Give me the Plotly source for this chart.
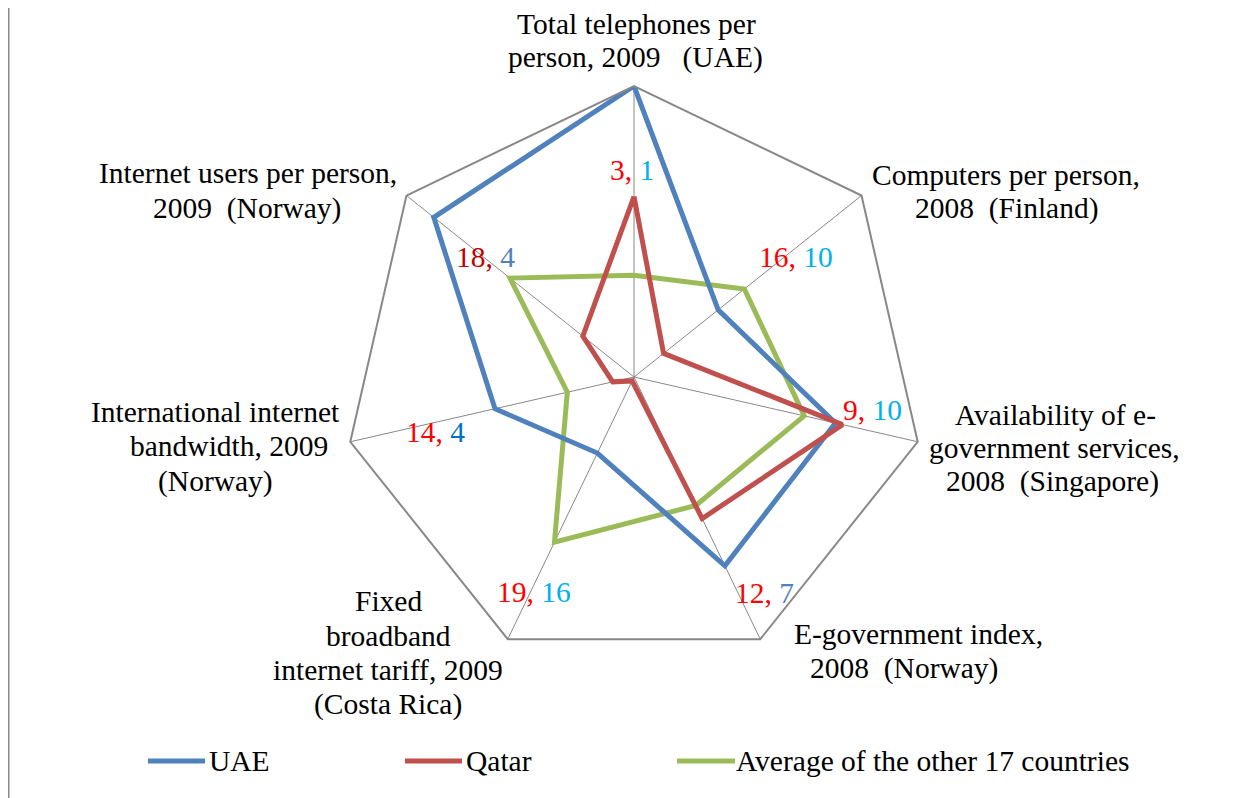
import plotly.graph_objects as go

W, H = 1254, 798
OX, OY = 8, 8  # page body offset

# ---- data ----
categories = ["Total telephones per person, 2009 (UAE)",
              "Computers per person, 2008 (Finland)",
              "Availability of e-government services, 2008 (Singapore)",
              "E-government index, 2008 (Norway)",
              "Fixed broadband internet tariff, 2009 (Costa Rica)",
              "International internet bandwidth, 2009 (Norway)",
              "Internet users per person, 2009 (Norway)"]
uae = [100, 37, 71, 72, 29, 49, 88]
qatar = [62, 13, 73.5, 54, 1.5, 7.5, 22.5]
avg17 = [35, 48.5, 60, 49, 63, 23.5, 54.5]
series_names = ["UAE", "Qatar", "Average of the other 17 countries"]
# ranks shown at each axis: Qatar rank, UAE rank
qatar_rank = ["3", "16", "9", "12", "19", "14", "18"]
uae_rank = ["1", "10", "10", "7", "16", "4", "4"]

FONT = "Liberation Serif"
FS = 29.5
BLUE, RED, GREEN = "#4F81BD", "#C0504D", "#9BBB59"
GRAY = "#888888"


def close(v):
    return list(v) + [v[0]]


fig = go.Figure()
for vals, col in [(avg17, GREEN), (uae, BLUE), (qatar, RED)]:
    fig.add_trace(go.Scatterpolar(r=close(vals), theta=close(categories), mode="lines",
                                  line=dict(color=col, width=5), showlegend=False,
                                  hoverinfo="skip"))

cx, cy, R = 634 - OX, 377 - OY, 291
fig.update_layout(
    width=W, height=H, margin=dict(l=0, r=0, t=0, b=0),
    paper_bgcolor="white", plot_bgcolor="white",
    font=dict(family=FONT, size=FS, color="black"),
    polar=dict(
        domain=dict(x=[(cx - R) / W, (cx + R) / W], y=[1 - (cy + R) / H, 1 - (cy - R) / H]),
        gridshape="linear", bgcolor="white",
        angularaxis=dict(rotation=90, direction="clockwise", type="category",
                         categoryarray=categories, showticklabels=False, ticks="",
                         showgrid=True, gridcolor=GRAY, gridwidth=1,
                         showline=True, linecolor=GRAY, linewidth=2),
        radialaxis=dict(range=[0, 100], showticklabels=False, ticks="", showgrid=False,
                        showline=False),
    ),
)


def P(x, y):
    return (x - OX) / W, 1 - (y - OY) / H


ann = []
def txt(x, y, s, color="black", xanchor="center"):
    px, py = P(x, y)
    ann.append(dict(x=px, y=py, xref="paper", yref="paper", text=s, showarrow=False,
                    xanchor=xanchor, yanchor="middle",
                    font=dict(family=FONT, size=FS, color=color)))

# axis labels, line by line
label_lines = [
    (636, 24, "Total telephones per"), (635, 58, "person, 2009   (UAE)"),
    (1006, 175, "Computers per person,"), (1007, 209, "2008  (Finland)"),
    (1055, 415, "Availability of e-"), (1054, 448, "government services,"),
    (1052, 481, "2008  (Singapore)"),
    (918, 634, "E-government index,"), (904, 668, "2008  (Norway)"),
    (388, 601, "Fixed"), (388, 636, "broadband"), (388, 670, "internet tariff, 2009"),
    (388, 704, "(Costa Rica)"),
    (215, 412, "International internet"), (229, 446, "bandwidth, 2009"), (215, 481, "(Norway)"),
    (248, 173, "Internet users per person,"), (247, 208, "2009  (Norway)"),
]
for x, y, s in label_lines:
    txt(x, y, s)

# rank labels
rank_pos = [(632, 170), (796, 257), (873, 410), (765, 593), (534, 592), (435, 432), (485, 257)]
q_col = ["#FF0000", "#FF0000", "#FF0000", "#FF0000", "#FF0000", "#FF0000", "#C00000"]
u_col = ["#00B0F0", "#00B0F0", "#00B0F0", "#4F81BD", "#00B0F0", "#0070C0", "#4F81BD"]
for (x, y), q, u, qc, uc in zip(rank_pos, qatar_rank, uae_rank, q_col, u_col):
    txt(x, y, f"<span style='color:{qc}'>{q},</span> <span style='color:{uc}'>{u}</span>")

# legend (manual)
shapes = []
leg = [(148, 205, 207, BLUE, series_names[0]), (405, 462, 464, RED, series_names[1]),
       (677, 735, 734, GREEN, series_names[2])]
for x0, x1, xt, col, name in leg:
    a0, b0 = P(x0, 761)
    a1, _ = P(x1, 761)
    shapes.append(dict(type="line", xref="paper", yref="paper", x0=a0, x1=a1, y0=b0, y1=b0,
                       line=dict(color=col, width=5)))
    txt(xt, 761, name, xanchor="left")

# left frame line
shapes.append(dict(type="line", xref="paper", yref="paper", x0=0.5 / W, x1=0.5 / W, y0=0, y1=1,
                   line=dict(color=GRAY, width=2)))

fig.update_layout(annotations=ann, shapes=shapes)
fig.write_html("out.html")
